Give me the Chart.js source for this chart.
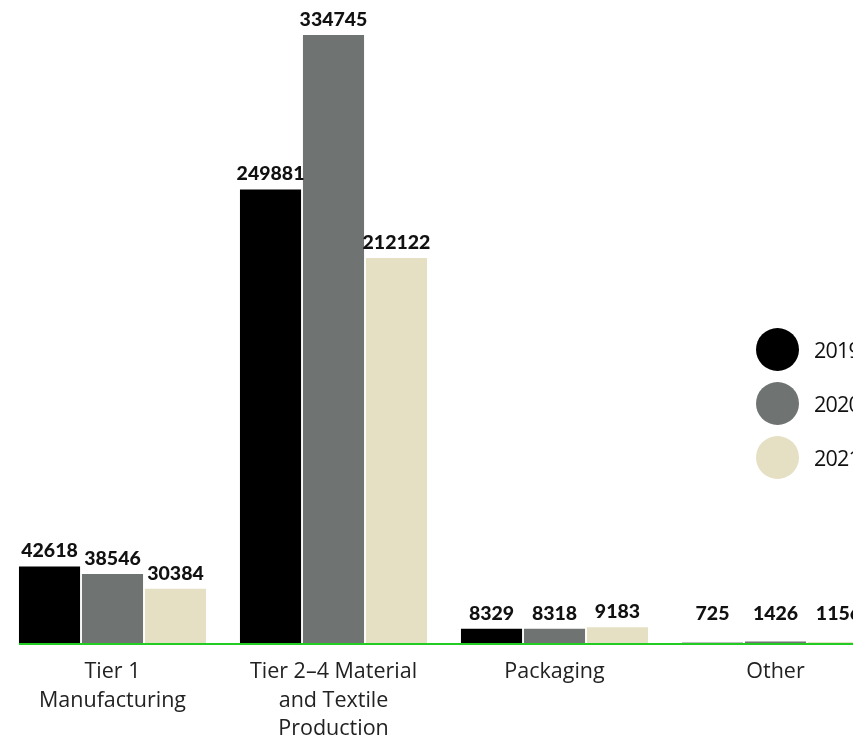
<!DOCTYPE html>
<html>
<head>
<meta charset="utf-8">
<script src="https://cdn.jsdelivr.net/npm/chart.js@4.4.1/dist/chart.umd.min.js"></script>
<style>
  html, body { margin: 0; padding: 0; background: #fff; overflow: hidden; }
  body { width: 853px; height: 742px; position: relative; }
  #wrap { position: absolute; left: 0; top: 0; width: 890px; height: 742px; }
  #legend { position: absolute; left: 756px; top: 322px; font-family: "Open Sans", sans-serif; font-size: 21.5px; letter-spacing: -0.8px; color: #111; }
  #legend .item { display: flex; align-items: center; height: 54px; white-space: nowrap; }
  #legend .dot { width: 43px; height: 43px; border-radius: 50%; margin-right: 15px; flex: none; }
</style>
</head>
<body>
<div id="wrap"><canvas id="c"></canvas></div>
<div id="legend"></div>
<script>
const categories = [
  ["Tier 1", "Manufacturing"],
  ["Tier 2\u20134 Material", "and Textile", "Production"],
  "Packaging",
  "Other"
];
const years = ["2019", "2020", "2021"];
const values2019 = [42618, 249881, 8329, 725];
const values2020 = [38546, 334745, 8318, 1426];
const values2021 = [30384, 212122, 9183, 1156];
const colors = ["#000000", "#6f7371", "#e5dfc3"];

// Bold value printed above every bar (kept clear of the baseline for tiny bars)
const valueLabels = {
  id: "valueLabels",
  afterDatasetsDraw(chart) {
    const ctx = chart.ctx;
    const floor = chart.chartArea.bottom - 24;
    ctx.save();
    ctx.font = "900 19.5px Lato, sans-serif";
    ctx.fillStyle = "#111";
    ctx.textAlign = "center";
    ctx.textBaseline = "alphabetic";
    chart.data.datasets.forEach((ds, i) => {
      chart.getDatasetMeta(i).data.forEach((bar, j) => {
        ctx.fillText(String(ds.data[j]), bar.x, Math.min(bar.y - 9, floor));
      });
    });
    ctx.restore();
  }
};

// Green baseline starting at the first bar
const baseline = {
  id: "baseline",
  afterDatasetsDraw(chart) {
    const first = chart.getDatasetMeta(0).data[0];
    const left = first.x - first.width / 2;
    const y = chart.chartArea.bottom;
    const ctx = chart.ctx;
    ctx.save();
    ctx.strokeStyle = "#22cc22";
    ctx.lineWidth = 2;
    ctx.beginPath();
    ctx.moveTo(left, y);
    ctx.lineTo(chart.chartArea.right + 10, y);
    ctx.stroke();
    ctx.restore();
  }
};

const chart = new Chart(document.getElementById("c"), {
  type: "bar",
  data: {
    labels: categories,
    datasets: [
      { label: years[0], data: values2019, backgroundColor: colors[0] },
      { label: years[1], data: values2020, backgroundColor: colors[1] },
      { label: years[2], data: values2021, backgroundColor: colors[2] }
    ]
  },
  options: {
    responsive: true,
    maintainAspectRatio: false,
    animation: false,
    layout: { padding: { left: 2, right: 4, top: 0, bottom: 0 } },
    plugins: { legend: { display: false }, tooltip: { enabled: false } },
    datasets: { bar: { categoryPercentage: 0.855, barPercentage: 0.97 } },
    scales: {
      x: {
        grid: { display: false, drawTicks: false },
        border: { display: false },
        ticks: {
          color: "#222",
          font: { family: "'Open Sans', sans-serif", size: 21.5, lineHeight: 1.316 },
          padding: 14,
          maxRotation: 0,
          autoSkip: false
        },
        afterFit(scale) { scale.height = 98; }
      },
      y: {
        display: false,
        min: 0,
        max: 354000
      }
    }
  },
  plugins: [valueLabels, baseline]
});

// Legend built from the chart's datasets
const legend = document.getElementById("legend");
chart.data.datasets.forEach(ds => {
  const item = document.createElement("div");
  item.className = "item";
  const dot = document.createElement("span");
  dot.className = "dot";
  dot.style.background = ds.backgroundColor;
  const txt = document.createElement("span");
  txt.textContent = ds.label;
  item.appendChild(dot);
  item.appendChild(txt);
  legend.appendChild(item);
});
</script>
</body>
</html>
